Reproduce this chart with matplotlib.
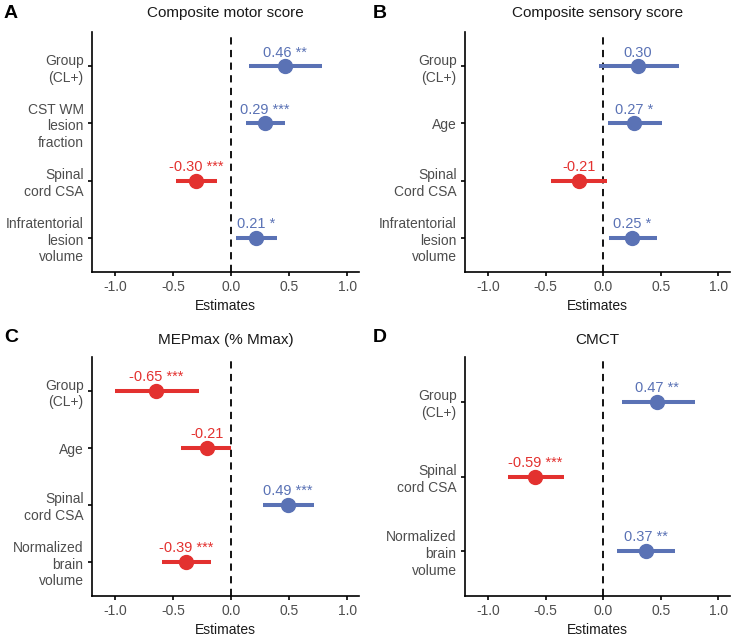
import matplotlib.pyplot as plt

plt.rcParams['font.family'] = ['Liberation Sans', 'DejaVu Sans']

# Panel data (top to bottom)
a_labels = ['Group\n(CL+)', 'CST WM\nlesion\nfraction', 'Spinal\ncord CSA', 'Infratentorial\nlesion\nvolume']
a_est = [0.46, 0.29, -0.30, 0.21]
a_lo = [0.15, 0.13, -0.48, 0.04]
a_hi = [0.78, 0.465, -0.12, 0.39]
a_stars = ['**', '***', '***', '*']

b_labels = ['Group\n(CL+)', 'Age', 'Spinal\nCord CSA', 'Infratentorial\nlesion\nvolume']
b_est = [0.30, 0.27, -0.21, 0.25]
b_lo = [-0.04, 0.04, -0.45, 0.05]
b_hi = [0.655, 0.51, 0.03, 0.47]
b_stars = ['', '*', '', '*']

c_labels = ['Group\n(CL+)', 'Age', 'Spinal\ncord CSA', 'Normalized\nbrain\nvolume']
c_est = [-0.65, -0.21, 0.49, -0.39]
c_lo = [-1.005, -0.43, 0.27, -0.60]
c_hi = [-0.28, 0.0, 0.715, -0.175]
c_stars = ['***', '', '***', '***']

d_labels = ['Group\n(CL+)', 'Spinal\ncord CSA', 'Normalized\nbrain\nvolume']
d_est = [0.47, -0.59, 0.37]
d_lo = [0.16, -0.83, 0.12]
d_hi = [0.80, -0.345, 0.62]
d_stars = ['**', '***', '**']

panels = [
    ('A', 'Composite motor score', a_labels, a_est, a_lo, a_hi, a_stars),
    ('B', 'Composite sensory score', b_labels, b_est, b_lo, b_hi, b_stars),
    ('C', 'MEPmax (% Mmax)', c_labels, c_est, c_lo, c_hi, c_stars),
    ('D', 'CMCT', d_labels, d_est, d_lo, d_hi, d_stars),
]

BLUE = '#5a72b5'
RED = '#e3312f'
GREY = '#4d4d4d'

W, H = 738, 640
fig = plt.figure(figsize=(W / 100, H / 100), dpi=100)

# axes boxes in pixels: left, top, right, bottom
boxes = [(92, 32, 359, 272), (465, 32, 730, 272),
         (92, 357, 359, 596), (465, 357, 730, 596)]
letter_pos = [(4, 13), (373, 13), (4, 338), (373, 338)]
title_y = [13, 13, 340, 340]

for (letter, title, labels, est, lo, hi, stars), box, lp, ty in zip(panels, boxes, letter_pos, title_y):
    l, t, r, b = box
    ax = fig.add_axes([l / W, 1 - b / H, (r - l) / W, (b - t) / H])
    n = len(labels)
    ys = list(range(n, 0, -1))
    for y, e, lo_, hi_, s in zip(ys, est, lo, hi, stars):
        col = BLUE if e > 0 else RED
        ax.plot([lo_, hi_], [y, y], color=col, lw=2.9, solid_capstyle='butt', zorder=3)
        ax.plot(e, y, 'o', color=col, ms=10, zorder=4)
        txt = f'{e:.2f}' + (f' {s}' if s else '')
        ax.annotate(txt, (e, y), xytext=(0, 7), textcoords='offset points',
                    ha='center', va='baseline', color=col, fontsize=10.5)
    ax.axvline(0, color='black', ls=(0, (4, 3)), lw=1.3, zorder=2)
    ax.set_xlim(-1.2, 1.1)
    ax.set_ylim(0.4, n + 0.6)
    ax.set_xticks([-1.0, -0.5, 0.0, 0.5, 1.0])
    ax.set_xticklabels(['-1.0', '-0.5', '0.0', '0.5', '1.0'])
    ax.set_yticks(ys)
    ax.set_yticklabels(labels, ha='right', linespacing=1.25)
    ax.tick_params(labelsize=10, colors=GREY, length=3, width=1.2, pad=3)
    ax.tick_params(axis='both', color='black')
    ax.spines['top'].set_visible(False)
    ax.spines['right'].set_visible(False)
    ax.spines['left'].set_linewidth(1.2)
    ax.spines['bottom'].set_linewidth(1.2)
    ax.set_xlabel('Estimates', fontsize=10, color='#1a1a1a', labelpad=3)
    cx = (l + r) / 2
    fig.text(cx / W, 1 - ty / H, title, ha='center', va='center', fontsize=11, color='#1a1a1a')
    fig.text(lp[0] / W, 1 - lp[1] / H, letter, ha='left', va='center', fontsize=14,
             fontweight='bold', color='black')

fig.savefig('out.png', dpi=100)
